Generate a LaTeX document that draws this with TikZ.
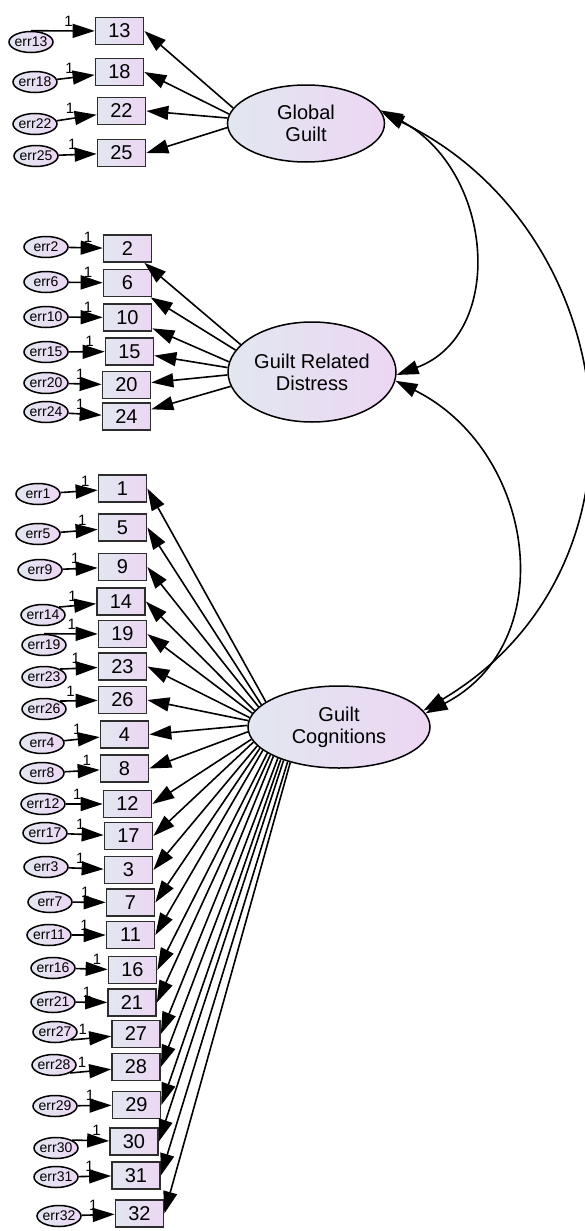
\documentclass[tikz,border=0pt]{standalone}
\usepackage{fontspec}
\setmainfont{Liberation Sans}
\usetikzlibrary{shapes.geometric,arrows.meta}
\definecolor{shadeL}{RGB}{226,231,241}
\definecolor{shadeR}{RGB}{236,214,242}
\definecolor{boxedge}{RGB}{45,45,45}
\tikzset{
  obs/.style={rectangle, draw=boxedge, line width=1.7pt, left color=shadeL, right color=shadeR,
    minimum width=48pt, minimum height=27pt, inner sep=0pt, font=\fontsize{20}{20}\selectfont},
  errv/.style={ellipse, draw=black, line width=1.5pt, left color=shadeL, right color=shadeR,
    minimum width=44pt, minimum height=21pt, inner sep=0pt, font=\fontsize{14}{14}\selectfont},
  latent/.style={ellipse, draw=black, line width=1.5pt, left color=shadeL, right color=shadeR, inner sep=0pt},
  latentlabel/.style={align=center, font=\fontsize{20}{22}\selectfont},
  reg/.style={draw, line width=1.6pt, -{Triangle[length=22pt,width=14pt]}},
  cov/.style={draw, line width=1.6pt, {Triangle[length=22pt,width=14pt]}-{Triangle[length=22pt,width=14pt]}},
  unit/.style={above, inner sep=4pt, font=\fontsize{15}{15}\selectfont}
}
\begin{document}
\begin{tikzpicture}[x=1pt,y=-1pt]
\useasboundingbox (0,0) rectangle (585,1231);

% latent factors
\node[latent, minimum width=157pt, minimum height=77pt,
  label={[latentlabel]center:Global\\Guilt}] (gg) at (306,123.5) {};
\node[latent, minimum width=168pt, minimum height=100pt,
  label={[latentlabel]center:Guilt Related\\Distress}] (grd) at (312,372) {};
\node[latent, minimum width=182pt, minimum height=82pt,
  label={[latentlabel]center:Guilt\\Cognitions}] (gc) at (339,727) {};

% observed items
\foreach \n/\x/\y in {13/119.5/31, 18/119.5/72, 22/121.5/111, 25/121.5/153,
  2/127.5/248.5, 6/127.5/283, 10/127.5/317.5, 15/129.5/351.5, 20/126.5/385, 24/126.5/416.5,
  1/122.5/488.5, 5/122.5/527.5, 9/122.5/567, 14/121/601.5, 19/122.5/634, 23/122.5/666.5,
  26/122.5/700, 4/124.5/734.5, 8/124.5/768.5, 12/127.5/804, 17/128.5/836, 3/128.5/870,
  7/130.5/902.5, 11/130.5/935, 16/132.5/970, 21/132/1002.5, 27/136/1034, 28/136/1067,
  29/136.5/1105, 30/134/1141.5, 31/136/1175.5, 32/139.5/1213.5}
  \node[obs] (b\n) at (\x,\y) {\n};

% error terms
\foreach \n/\x/\y in {13/31/42, 18/35/82, 22/35/124, 25/36/156,
  2/46/247, 6/46/282, 10/46/317, 15/46/352, 20/46/383, 24/46/412,
  1/38/494, 5/38/534, 9/40/570, 14/43/615, 19/44/645, 23/44/677, 26/44/709,
  4/42/743, 8/42/773, 12/43/804, 17/45/833, 3/46/867, 7/50/902, 11/49/935,
  16/53/968, 21/53/1002, 27/55/1032, 28/54/1065, 29/55/1106, 30/56/1148,
  31/56/1177, 32/59/1216}
  \node[errv] (e\n) at (\x,\y) {\makebox[0pt]{err\n}};

% error paths fixed to 1
\foreach \n/\p in {18/.33, 22/.33, 25/.36, 2/.57, 6/.57, 10/.57, 15/.58, 20/.35, 24/.35,
  1/.67, 5/.59, 9/.36, 4/.37, 8/.63, 12/.31, 17/.35, 3/.33, 7/.38, 11/.38,
  16/.67, 21/.36, 29/.36, 31/.33, 32/.35}
  \draw[reg] (e\n) -- node[unit,pos=\p]{1} (b\n);
\foreach \n/\s/\p in {13/north/.59, 14/north east/.36, 19/north/.52, 23/north east/.42,
  26/north east/.28, 27/south east/.29, 28/south east/.29, 30/north east/.66}
  \draw[reg] (e\n.\s) -- node[unit,pos=\p]{1} (b\n);

% factor loadings
\foreach \n/\a in {13/168, 18/173, 22/176, 25/183}
  \draw[reg] (gg.\a) -- (b\n.east);
\foreach \n/\a in {2/159, 6/164, 10/173, 15/177, 20/182, 24/190}
  \draw[reg] (grd.\a) -- (b\n);
\foreach \n/\a in {1/161, 5/164, 9/166, 14/169, 19/171, 23/174, 26/176, 4/179, 8/183,
  12/188, 17/190, 3/193, 7/195, 11/197, 21/202, 16/200, 27/204, 28/207, 29/209,
  30/211, 31/214, 32/216}
  \draw[reg] (gc.\a) -- (b\n.east);

% factor covariances
\draw[cov] (gg.10) .. controls (494,169) and (507,334) .. (grd.-2);
\draw[cov] (gg.8) .. controls (625,230) and (666,567) .. (gc.11);
\draw[cov] (grd.-6) .. controls (535,450) and (563,642) .. (gc.9);
\end{tikzpicture}
\end{document}
